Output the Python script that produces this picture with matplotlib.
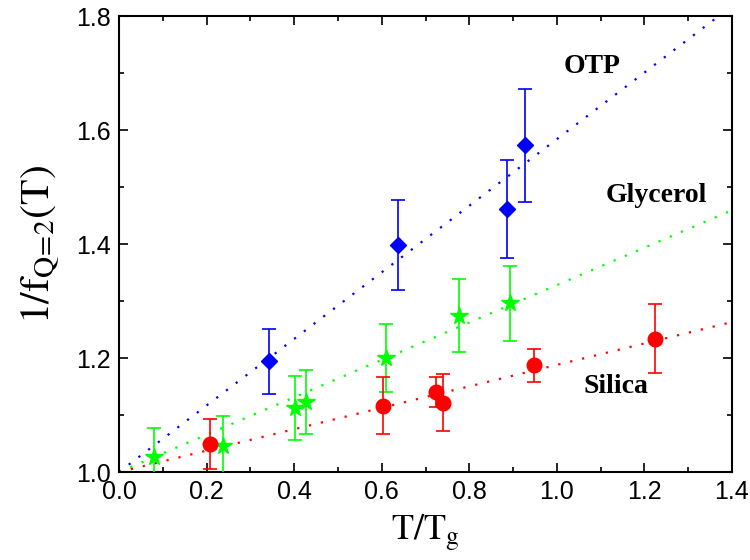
import numpy as np
import matplotlib.pyplot as plt
from matplotlib.ticker import MultipleLocator

plt.rcParams['font.family'] = ['Liberation Sans', 'DejaVu Sans']
plt.rcParams['mathtext.fontset'] = 'stix'

# OTP (blue diamonds)
otp_x = [0.342, 0.638, 0.885, 0.927]
otp_y = [1.194, 1.398, 1.461, 1.573]
otp_err = [0.057, 0.079, 0.086, 0.099]
otp_slope = 0.584

# Glycerol (green stars)
gly_x = [0.081, 0.237, 0.402, 0.428, 0.609, 0.776, 0.893]
gly_y = [1.026, 1.046, 1.112, 1.123, 1.200, 1.274, 1.296]
gly_err = [0.051, 0.053, 0.056, 0.056, 0.060, 0.064, 0.066]
gly_slope = 0.328

# Silica (red circles)
sil_x = [0.208, 0.602, 0.725, 0.740, 0.947, 1.223]
sil_y = [1.049, 1.116, 1.140, 1.122, 1.187, 1.234]
sil_err = [0.044, 0.050, 0.026, 0.050, 0.029, 0.061]
sil_slope = 0.188

fig = plt.figure(figsize=(7.5, 5.6), dpi=100)
ax = fig.add_axes([0.1587, 0.157, 0.8173, 0.8144])

# linear fits through (0, 1)
xx = np.array([0.0, 1.4])
for slope, c in [(otp_slope, 'blue'), (gly_slope, '#00ff00'), (sil_slope, 'red')]:
    ax.plot(xx, 1 + slope * xx, color=c, lw=1.6, ls=(0, (1, 4.5)), zorder=2)

ax.errorbar(otp_x, otp_y, yerr=otp_err, fmt='D', color='blue', ms=8.6,
            capsize=5, elinewidth=1.2, capthick=1.2, zorder=3)
ax.errorbar(gly_x, gly_y, yerr=gly_err, fmt='*', color='#00ff00', ms=13,
            capsize=5, elinewidth=1.2, capthick=1.2, zorder=3)
ax.errorbar(sil_x, sil_y, yerr=sil_err, fmt='o', color='red', ms=10.5,
            capsize=5, elinewidth=1.2, capthick=1.2, zorder=3)

bold = dict(family=['Liberation Serif', 'DejaVu Serif'], weight='bold',
            fontsize=20, ha='center', va='center')
ax.text(1.08, 1.711, 'OTP', **bold)
ax.text(1.226, 1.486, 'Glycerol', **bold)
ax.text(1.136, 1.15, 'Silica', **bold)

ax.set_xlim(0, 1.4)
ax.set_ylim(1.0, 1.8)
ax.xaxis.set_major_locator(MultipleLocator(0.2))
ax.xaxis.set_minor_locator(MultipleLocator(0.1))
ax.yaxis.set_major_locator(MultipleLocator(0.2))
ax.yaxis.set_minor_locator(MultipleLocator(0.1))
ax.xaxis.set_major_formatter(plt.FuncFormatter(lambda v, p: f'{v:.1f}'))
ax.yaxis.set_major_formatter(plt.FuncFormatter(lambda v, p: f'{v:.1f}'))
ax.tick_params(which='both', direction='in', top=True, right=True,
               labelsize=18, width=1.2)
ax.tick_params(which='major', length=6.5, pad=6)
ax.tick_params(which='minor', length=3.5)
for s in ax.spines.values():
    s.set_linewidth(1.5)

ax.set_xlabel(r'$\mathrm{T/T_g}$', fontsize=26, labelpad=6)
ax.set_ylabel(r'$\mathrm{1/f_{Q\!=\!2}(T)}$', fontsize=30, labelpad=10)

fig.savefig('out.png', dpi=100)
